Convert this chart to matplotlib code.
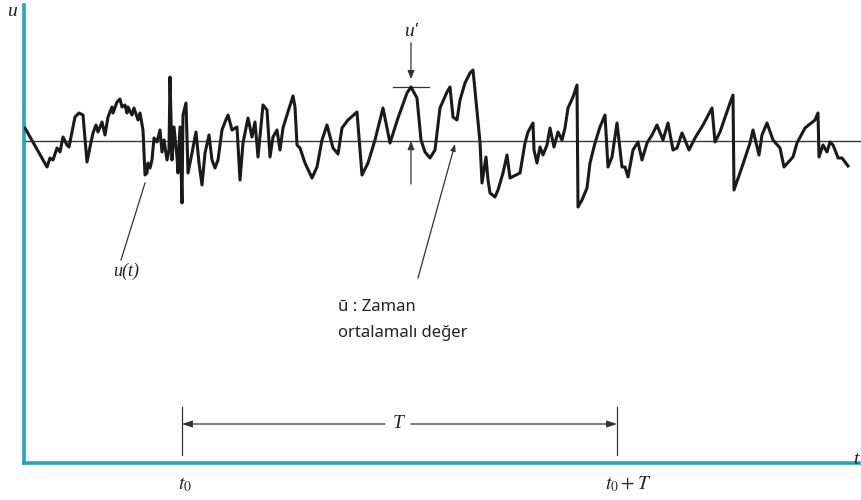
import matplotlib
matplotlib.use("Agg")
import matplotlib.pyplot as plt

plt.rcParams["mathtext.fontset"] = "stix"

# signal u(t): time t and deviation from the mean u - ū (arbitrary units)
t_vals = [25, 47, 50, 53, 57, 60, 63, 67, 69, 72, 75, 79, 83, 87, 90, 93, 96, 98, 102, 105,
          108, 112, 113, 117, 120, 122, 125, 127, 128, 132, 134, 138, 140, 143, 145, 147, 148, 150, 152, 154,
          157, 160, 162, 164, 167, 169, 170, 172, 174, 177, 178, 180, 182, 183, 186, 188, 192, 196, 199, 202,
          205, 209, 212, 215, 218, 222, 225, 228, 232, 237, 240, 243, 248, 252, 255, 258, 263, 267, 270, 273,
          277, 280, 283, 287, 293, 295, 297, 300, 305, 312, 317, 322, 327, 333, 338, 342, 348, 357, 362, 368,
          375, 383, 390, 398, 407, 411, 417, 421, 425, 430, 435, 440, 447, 450, 453, 457, 460, 465, 470, 473,
          480, 482, 486, 488, 490, 495, 498, 503, 507, 510, 520, 525, 528, 533, 534, 537, 540, 543, 547, 550,
          554, 558, 562, 565, 568, 573, 577, 578, 582, 587, 590, 595, 600, 605, 608, 612, 617, 622, 625, 628,
          633, 638, 642, 647, 652, 657, 663, 668, 673, 677, 682, 685, 689, 695, 703, 712, 715, 720, 730, 733,
          734, 742, 750, 753, 759, 762, 767, 773, 780, 784, 793, 797, 805, 815, 818, 819, 823, 827, 830, 833,
          837, 838, 842, 848]
u_vals = [13, -26, -17, -19, -7, -11, 4, -4, -6, 9, 24, 28, 26, -21, -6, 8, 16, 9, 19, 6,
          24, 34, 28, 39, 42, 34, 36, 28, 34, 26, 33, 21, 28, 11, -34, -32, -22, -27, -19, 3,
          -1, 11, -11, 1, -19, -9, 64, -19, 14, -16, -32, 14, -62, 26, 38, -32, -12, 9, -22, -44,
          -12, 6, -19, -27, -19, 11, 19, 26, 11, 14, -39, -2, 23, 4, 19, -16, 36, 31, -16, 4,
          11, -9, 13, 26, 45, 34, -4, -7, -22, -37, -26, 1, 16, -7, -13, 13, 21, 29, -34, -22,
          1, 33, -2, 23, 48, 54, 43, 1, -11, -17, -9, 33, 49, 54, 24, 21, 41, 58, 68, 71,
          -1, -42, -16, -39, -52, -56, -49, -32, -14, -37, -32, -2, 9, 18, -9, -22, -6, -14, -4, 13,
          -6, 9, 1, 13, 33, 44, 56, -66, -59, -47, -22, -2, 14, 26, -26, -16, 18, -26, -26, -36,
          -9, -1, -19, -2, 6, 16, 1, 18, -9, -7, 8, 1, -9, 3, 16, 33, -1, 9, 38, 46,
          -49, -26, -2, 11, -14, 6, 18, 1, -7, -26, -16, -2, 13, 21, 28, -16, -4, -11, -1, -4,
          -14, -17, -17, -25]

# annotation values
t0 = 182
t1 = 617
u_peak = 54
t_peak = 411
labels = {"u_axis": "u", "t_axis": "t", "t0": "$t_0$", "t1": "$t_0 + T$", "T": "T",
          "uprime": "u\u2032", "ut": "u(t)", "mean1": "\u016b : Zaman", "mean2": "ortalamal\u0131 de\u011fer"}

W, H = 861, 500
fig = plt.figure(figsize=(W / 100, H / 100), dpi=100)
ax = fig.add_axes([24 / W, 37 / H, (W - 24) / W, 458 / H])
ax.set_xlim(24, 861)
ax.set_ylim(-322, 136)
teal = "#22a8bb"
for s in ["top", "right"]:
    ax.spines[s].set_visible(False)
for s in ["left", "bottom"]:
    ax.spines[s].set_color(teal)
    ax.spines[s].set_linewidth(2.6)
ax.set_xticks([])
ax.set_yticks([])

# mean line
ax.axhline(0, color="#3a3a3a", lw=1.0, zorder=1)
# signal
ax.plot(t_vals, u_vals, color="#1a1a1a", lw=2.2, solid_joinstyle="round", zorder=3)

serif = dict(family="Liberation Serif", style="italic", color="#222222")
sans = dict(family="Noto Sans", color="#222222")
grey = "#333333"

# u' markers
ax.plot([t_peak - 18, t_peak + 18], [u_peak, u_peak], color=grey, lw=0.9)
ax.annotate("", xy=(t_peak, u_peak + 5), xytext=(t_peak, 101),
            arrowprops=dict(arrowstyle="-|>,head_length=0.5,head_width=0.2", color=grey, lw=0.9))
ax.annotate("", xy=(t_peak, 0), xytext=(t_peak, -43),
            arrowprops=dict(arrowstyle="-|>,head_length=0.5,head_width=0.2", color=grey, lw=0.9,
                            shrinkA=0, shrinkB=0))
ax.text(t_peak, 110, labels["uprime"], ha="center", va="center", fontsize=14, **serif)

# u(t) pointer
ax.plot([121, 145], [-119, -42], color=grey, lw=0.9)
ax.text(126, -130, labels["ut"], ha="center", va="center", fontsize=13, **serif)

# mean pointer
ax.annotate("", xy=(455, -3), xytext=(418, -137),
            arrowprops=dict(arrowstyle="-|>,head_length=0.4,head_width=0.15", color=grey, lw=0.9,
                            shrinkA=0, shrinkB=0))
ax.text(338, -166, labels["mean1"], ha="left", va="center", fontsize=12, **sans)
ax.text(338, -192, labels["mean2"], ha="left", va="center", fontsize=12, **sans)

# T dimension
ax.plot([t0, t0], [-266, -314], color=grey, lw=0.9)
ax.plot([t1, t1], [-266, -314], color=grey, lw=0.9)
ax.annotate("", xy=(t0, -283), xytext=(385, -283),
            arrowprops=dict(arrowstyle="-|>,head_length=0.6,head_width=0.2", color=grey, lw=0.9,
                            shrinkA=0, shrinkB=0))
ax.annotate("", xy=(t1, -283), xytext=(411, -283),
            arrowprops=dict(arrowstyle="-|>,head_length=0.6,head_width=0.2", color=grey, lw=0.9,
                            shrinkA=0, shrinkB=0))
ax.text(398, -283, labels["T"], ha="center", va="center", fontsize=14, **serif)

# axis labels
ax.text(12, 130, labels["u_axis"], ha="center", va="center", fontsize=14, clip_on=False, **serif)
ax.text(856, -318, labels["t_axis"], ha="center", va="center", fontsize=14, clip_on=False, **serif)
ax.text(t0 + 3, -343, labels["t0"], ha="center", va="center", fontsize=14, clip_on=False,
        color="#222222")
ax.text(t1 + 11, -343, labels["t1"], ha="center", va="center", fontsize=14, clip_on=False,
        color="#222222")

fig.savefig("out.png", dpi=100, facecolor="white")
